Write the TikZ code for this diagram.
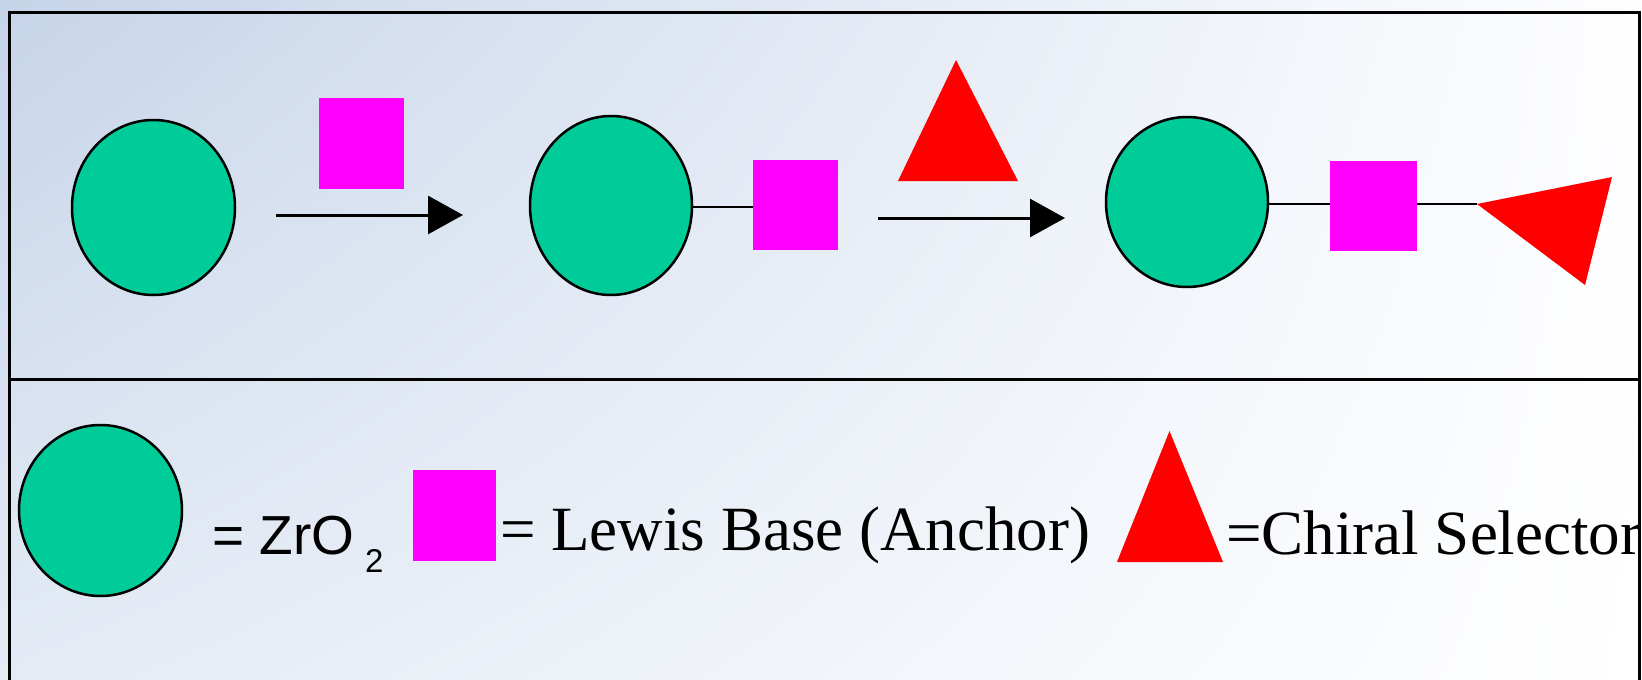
\documentclass[tikz,border=0pt]{standalone}
\usepackage{fontspec}
\setmainfont{Liberation Serif}
\newfontfamily\arialfont{Liberation Sans}
\usetikzlibrary{shapes.geometric,arrows.meta,shadings}
\definecolor{zrgreen}{RGB}{0,204,153}
\definecolor{lbmag}{RGB}{255,0,255}
\definecolor{csred}{RGB}{255,0,0}
\definecolor{bgUL}{RGB}{198,212,233}
\definecolor{bgUR}{RGB}{254,254,255}
\definecolor{bgLL}{RGB}{228,235,245}
\definecolor{bgLR}{RGB}{255,255,255}
\tikzset{
  zr/.style={ellipse, draw=black, line width=2.5pt, fill=zrgreen, inner sep=0pt},
  lb/.style={rectangle, fill=lbmag, inner sep=0pt, draw=none},
  cs/.style={fill=csred},
  link/.style={line width=2.5pt, black},
  rxn/.style={line width=3pt, black, -{Triangle[length=35pt,width=38pt]}},
  frame/.style={line width=3pt, black},
  serif/.style={inner sep=0pt, anchor=base west, font=\fontsize{63}{70}\selectfont},
  sans/.style={inner sep=0pt, anchor=base west, font=\arialfont\fontsize{55}{60}\selectfont}
}
\begin{document}
\begin{tikzpicture}[x=1pt,y=-1pt]
\useasboundingbox (0,0) rectangle (1642,680);
\clip (0,0) rectangle (1642,680);
\shade[upper left=bgUL, upper right=bgUR, lower left=bgLL, lower right=bgLR] (0,0) rectangle (1642,680);
% frame
\draw[frame] (9.5,682) -- (9.5,12.5) -- (1639.5,12.5) -- (1639.5,682);
\draw[frame] (9.5,379.5) -- (1639.5,379.5);
% row 1
\node[zr, minimum width=163pt, minimum height=175pt] (c1) at (153.5,207.5) {};
\node[lb, minimum width=85pt, minimum height=91pt] (s1) at (361.5,143.5) {};
\coordinate (a1s) at (276,215);
\coordinate (a1e) at (463,215);
\draw[rxn] (a1s) -- (a1e);
\node[zr, minimum width=162pt, minimum height=179pt] (c2) at (611,205.5) {};
\node[lb, minimum width=85pt, minimum height=90pt] (s2) at (795.5,205) {};
\draw[link] (c2.east |- 0,207) -- (s2.west |- 0,207);
\coordinate (a2s) at (878,218);
\coordinate (a2e) at (1065,218);
\draw[rxn] (a2s) -- (a2e);
\coordinate (t1a) at (956,60);
\coordinate (t1b) at (898,181);
\coordinate (t1c) at (1018,181);
\fill[cs] (t1a) -- (t1b) -- (t1c) -- cycle;
\node[zr, minimum width=162pt, minimum height=170pt] (c3) at (1187,202) {};
\node[lb, minimum width=87pt, minimum height=90pt] (s3) at (1373.5,206) {};
\coordinate (t3a) at (1477,204);
\coordinate (t3b) at (1612,177);
\coordinate (t3c) at (1585,285);
\draw[link] (c3.east |- 0,204) -- (s3.west |- 0,204);
\draw[link] (s3.east |- 0,204) -- (t3a);
\fill[cs] (t3a) -- (t3b) -- (t3c) -- cycle;
% legend
\node[zr, minimum width=163pt, minimum height=171pt] (lc) at (100.5,510.5) {};
\node[sans] (lzr) at (212,554) {= ZrO};
\node[sans, font=\arialfont\fontsize{33}{36}\selectfont] (lsub) at (365,572) {2};
\node[lb, minimum width=83pt, minimum height=91pt] (ls) at (454.5,515.5) {};
\node[serif] (llb) at (500,550) {= Lewis Base (Anchor)};
\coordinate (lta) at (1169.5,431);
\coordinate (ltb) at (1117,562);
\coordinate (ltc) at (1223,562);
\fill[cs] (lta) -- (ltb) -- (ltc) -- cycle;
\node[serif] (lcs) at (1226,554) {=Chiral Selector};
\end{tikzpicture}
\end{document}
